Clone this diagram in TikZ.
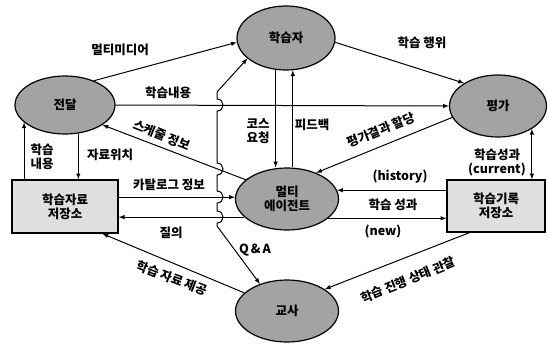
\documentclass[tikz,border=0pt]{standalone}
\usepackage{fontspec}
\setmainfont{Noto Sans CJK KR}
\usepackage{tikz}
\usetikzlibrary{shapes.geometric}
\usetikzlibrary{arrows}

\tikzset{
	actor/.style={ellipse, draw=black, line width=1.2pt, fill=gray!72, inner sep=0pt, align=center},
	store/.style={rectangle, draw=black, line width=1.4pt, fill=gray!25, inner sep=0pt, align=center},
	flow/.style={line width=1pt},
	lbl/.style={inner sep=1pt, align=center}
}

\begin{document}
\begin{tikzpicture}[x=1pt, y=-1pt, font=\fontsize{12.5}{14}\selectfont\bfseries]
		\useasboundingbox (0,0) rectangle (548,343);
		
		% actors and stores
		\node[actor, minimum width=100pt, minimum height=58pt] (jeondal) at (65,105) {전달};
		\node[actor, minimum width=98pt, minimum height=64pt] (haksupja) at (286,38) {학습자};
		\node[actor, minimum width=97pt, minimum height=62pt] (pyeongga) at (498,106) {평가};
		\node[actor, minimum width=103pt, minimum height=62pt] (agent) at (287,199) {멀티\\에이전트};
		\node[actor, minimum width=103pt, minimum height=62pt] (gyosa) at (287,311) {교사};
		\node[store, minimum width=106pt, minimum height=53pt] (matbox) at (65,206.5) {학습자료\\저장소};
		\node[store, minimum width=98pt, minimum height=52pt] (recbox) at (496,206) {학습기록\\저장소};
		
		% flows
		\draw [flow, -latex] (jeondal.40) -- (haksupja.185);
		\draw [flow, -latex] (jeondal.east) -- (pyeongga.west);
		\draw [flow, -latex] (agent.155) -- (jeondal.-28);
		\draw [flow, -latex] (jeondal.203 |- matbox.north) -- (jeondal.203);
		\draw [flow, -latex] (jeondal.-65) -- (jeondal.-65 |- matbox.north);
		\draw [flow, -latex] (agent.178 -| matbox.east) -- (agent.178);
		\draw [flow, -latex] (agent.203) -- (agent.203 -| matbox.east);
		\draw [flow, -latex] (gyosa.157) -- (matbox.-36);
		\draw [flow, -latex] (haksupja.252) -- (haksupja.252 |- agent.north);
		\draw [flow, -latex] (haksupja.-78 |- agent.north) -- (haksupja.-78);
		\draw [flow, -latex] (haksupja.-5) -- (pyeongga.146);
		\draw [flow, -latex] (pyeongga.194) -- (agent.42);
		\draw [flow, latex-latex] (pyeongga.-34) -- (pyeongga.-34 |- recbox.north);
		\draw [flow, -latex] (agent.10 -| recbox.west) -- (agent.10);
		\draw [flow, -latex] (agent.-25) -- (agent.-25 -| recbox.west);
		\draw [flow, -latex] (recbox.-135) -- (gyosa.30);
		% Q&A line, jumps over the crossing lines
		\draw [flow, latex-latex] (haksupja.208) -- (217,92) -- (217,99)
			.. controls (225,99) and (225,111) .. (217,111) -- (217,163)
			.. controls (225,163) and (225,175) .. (217,175) -- (217,191)
			.. controls (225,191) and (225,203) .. (217,203) -- (217,211)
			.. controls (225,211) and (225,223) .. (217,223) -- (217,226) -- (gyosa.135);
		
		% labels
		\node[lbl] (l1) at (120,50) {멀티미디어};
		\node[lbl] (l2) at (168,93) {학습내용};
		\node[lbl, rotate=-22] (l3) at (162,135) {스케줄 정보};
		\node[lbl, align=left] (l4) at (42,157) {학습\\내용};
		\node[lbl] (l5) at (110,155) {자료위치};
		\node[lbl] (l6) at (169,185) {카탈로그 정보};
		\node[lbl] (l7) at (171,233) {질의};
		\node[lbl, rotate=-21] (l8) at (172,278) {학습 자료 제공};
		\node[lbl] (l9) at (255,250) {Q\,\&\,A};
		\node[lbl] (l10) at (258,131) {코스\\요청};
		\node[lbl] (l11) at (312,125) {피드백};
		\node[lbl] (l12) at (422,43) {학습 행위};
		\node[lbl, rotate=22] (l13) at (381,130) {평가결과 할당};
		\node[lbl] (l14) at (497,162) {학습성과\\(current)};
		\node[lbl] (l15) at (400,177) {(history)};
		\node[lbl] (l16) at (393,205) {학습 성과};
		\node[lbl] (l17) at (383,232) {(new)};
		\node[lbl, rotate=22] (l18) at (408,280) {학습 진행 상태 관찰};
	\end{tikzpicture}
\end{document}
